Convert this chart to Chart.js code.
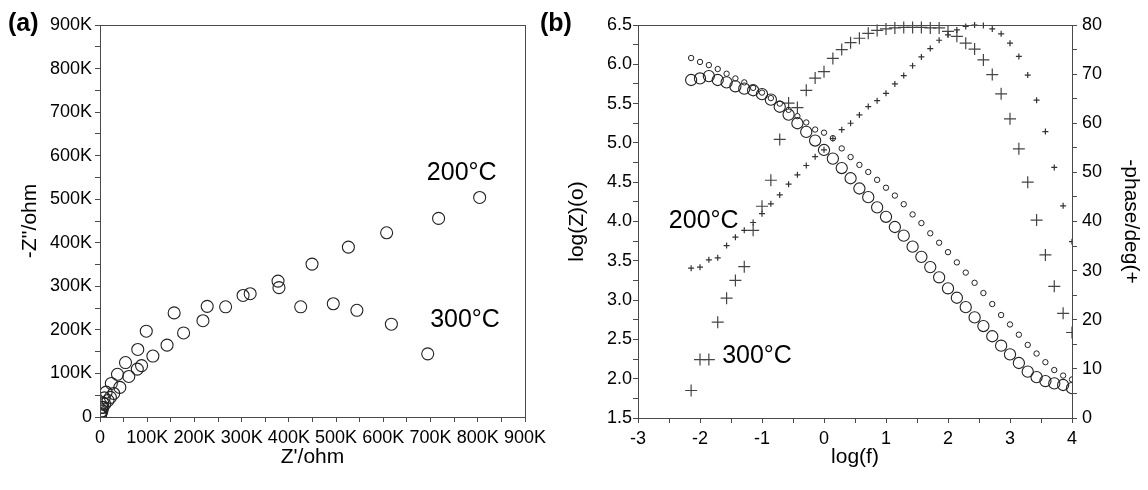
<!DOCTYPE html>
<html><head><meta charset="utf-8">
<script src="https://cdn.jsdelivr.net/npm/chart.js@4.4.0/dist/chart.umd.min.js"></script>
<style>
html,body{margin:0;padding:0;background:#fff;}
#wrap{position:relative;width:1148px;height:490px;overflow:hidden;background:#fff;}
#ca{position:absolute;left:0;top:0;width:560px;height:490px;}
#cb{position:absolute;left:560px;top:0;width:588px;height:490px;}
.plab{position:absolute;font:bold 25px Arial,'Liberation Sans',sans-serif;color:#000;line-height:28px;}
</style></head><body>
<div id="wrap">
<div id="ca"><canvas id="a"></canvas></div>
<div id="cb"><canvas id="b"></canvas></div>
<div class="plab" style="left:8px;top:8px">(a)</div>
<div class="plab" style="left:540px;top:8px">(b)</div>
</div>
<script>
// ---------- Panel (a): Nyquist plot, values in kOhm ----------
const nyq200X = [1, 2, 4, 6, 9, 13, 24, 37, 54, 80, 98, 157, 227, 303, 377, 449, 526, 607, 717, 804];
const nyq200Y = [5, 12, 22, 32, 44, 57, 77, 98, 125, 155, 197, 239, 254, 279, 312, 351, 390, 423, 456, 504];
const nyq300X = [1, 2, 4, 6, 10, 17, 22, 29, 42, 61, 79, 88, 112, 142, 177, 218, 266, 318, 379, 425, 494, 544, 617, 694];
const nyq300Y = [3, 8, 14, 22, 30, 38, 45, 54, 68, 93, 110, 118, 140, 165, 193, 221, 253, 283, 297, 253, 260, 245, 213, 145];
const nyqTicks = ['0', '100K', '200K', '300K', '400K', '500K', '600K', '700K', '800K', '900K'];

// ---------- Panel (b): Bode plot ----------
const logF = [-2.143, -2.000, -1.857, -1.714, -1.571, -1.429, -1.286, -1.143, -1.000, -0.857, -0.714,
  -0.571, -0.429, -0.286, -0.143, 0.000, 0.143, 0.286, 0.429, 0.571, 0.714, 0.857, 1.000, 1.143,
  1.286, 1.429, 1.571, 1.714, 1.857, 2.000, 2.143, 2.286, 2.429, 2.571, 2.714, 2.857, 3.000, 3.143,
  3.286, 3.429, 3.571, 3.714, 3.857, 4.000];
const logZ200 = [6.08, 6.03, 5.99, 5.94, 5.88, 5.82, 5.77, 5.70, 5.64, 5.57, 5.50, 5.42, 5.34, 5.26,
  5.17, 5.13, 5.06, 4.93, 4.82, 4.72, 4.63, 4.53, 4.43, 4.33, 4.22, 4.09, 3.98, 3.85, 3.73, 3.61,
  3.48, 3.35, 3.22, 3.09, 2.95, 2.81, 2.69, 2.56, 2.43, 2.32, 2.21, 2.11, 2.04, 1.99];
const logZ300 = [5.80, 5.82, 5.85, 5.80, 5.77, 5.72, 5.69, 5.67, 5.62, 5.55, 5.46, 5.36, 5.25, 5.14,
  5.03, 4.91, 4.80, 4.68, 4.55, 4.42, 4.31, 4.18, 4.06, 3.93, 3.82, 3.68, 3.55, 3.42, 3.29, 3.15,
  3.03, 2.91, 2.78, 2.67, 2.54, 2.42, 2.31, 2.20, 2.09, 2.02, 1.97, 1.94, 1.92, 1.88];
const phase200 = [30.5, 30.7, 32.2, 32.6, 35.1, 36.8, 38.2, 39.8, 41.6, 43.6, 45.4, 47.6, 49.5, 51.4,
  53.2, 54.6, 56.9, 58.7, 60.0, 61.7, 63.4, 64.6, 66.1, 68.0, 69.7, 71.7, 73.5, 75.2, 76.9, 78.0,
  79.0, 79.7, 80.0, 79.9, 79.2, 78.2, 76.3, 73.6, 69.8, 64.7, 58.3, 51.0, 43.2, 35.9];
const phase300 = [5.6, 11.9, 11.9, 19.5, 24.4, 28.0, 30.8, 38.2, 43.1, 48.4, 56.7, 64.1, 63.2, 66.7,
  69.2, 70.5, 73.2, 75.0, 76.4, 77.3, 78.3, 78.9, 79.2, 79.4, 79.5, 79.5, 79.5, 79.4, 79.4, 78.7,
  77.7, 76.3, 75.1, 72.9, 69.9, 66.0, 60.9, 54.8, 48.0, 40.3, 33.2, 26.8, 21.3, 17.4];
const bodeXTicks = ['-3', '-2', '-1', '0', '1', '2', '3', '4'];

// label annotations (text, data position)
const annotA = [{text: '200°C', x: 766000, y: 561000}, {text: '300°C', x: 773000, y: 223000}];
const annotB = [{text: '200°C', x: -1.94, y: 4.01}, {text: '300°C', x: -1.08, y: 2.29}];

const FONT = "Arial, 'Liberation Sans', sans-serif";
const AXC = '#4a4a4a';
Chart.defaults.font.family = FONT;
Chart.defaults.color = '#000';

const zip = (xs, ys, k) => xs.map((x, i) => ({x: x * k, y: ys[i] * k}));
const zipB = (ys) => logF.map((x, i) => ({x, y: ys[i]}));

const framePlugin = {
  id: 'frame',
  afterDatasetsDraw(chart) {
    const {ctx, chartArea: a} = chart;
    ctx.save();
    ctx.strokeStyle = AXC; ctx.lineWidth = 1;
    ctx.strokeRect(Math.round(a.left) + 0.5, Math.round(a.top) + 0.5, Math.round(a.right - a.left), Math.round(a.bottom - a.top));
    const items = chart.options.plugins.annot.items;
    const yid = chart.options.plugins.annot.yAxis;
    ctx.fillStyle = '#000';
    ctx.font = '25px ' + FONT;
    ctx.textAlign = 'center'; ctx.textBaseline = 'middle';
    items.forEach(it => {
      ctx.fillText(it.text, chart.scales.x.getPixelForValue(it.x), chart.scales[yid].getPixelForValue(it.y));
    });
    ctx.restore();
  }
};

function axisBase(extra) {
  return Object.assign({
    type: 'linear',
    grid: {display: true, drawOnChartArea: false, drawTicks: true, tickLength: 5, color: AXC, tickColor: AXC},
    border: {display: true, color: AXC, width: 1},
  }, extra);
}

// Panel (a)
new Chart(document.getElementById('a'), {
  type: 'scatter',
  data: {
    datasets: [
      {label: '200°C', data: zip(nyq200X, nyq200Y, 1000), pointStyle: 'circle', pointRadius: 6,
        borderColor: '#222', backgroundColor: 'rgba(0,0,0,0)', borderWidth: 1.1, pointHoverRadius: 6},
      {label: '300°C', data: zip(nyq300X, nyq300Y, 1000), pointStyle: 'circle', pointRadius: 6,
        borderColor: '#222', backgroundColor: 'rgba(0,0,0,0)', borderWidth: 1.1, pointHoverRadius: 6},
    ]
  },
  options: {
    responsive: true, maintainAspectRatio: false, animation: false, devicePixelRatio: 1,
    layout: {padding: {top: 25, right: 35, left: 0, bottom: 0}},
    plugins: {legend: {display: false}, tooltip: {enabled: false}, annot: {items: annotA, yAxis: 'y'}},
    scales: {
      x: axisBase({min: 0, max: 900000,
        ticks: {stepSize: 50000, autoSkip: false, maxRotation: 0, padding: 5, font: {size: 18},
          callback: v => (v % 100000 === 0 ? nyqTicks[v / 100000] : '')},
        title: {display: true, text: "Z'/ohm", font: {size: 21}, padding: {top: 0, bottom: 20}},
        afterFit: s => { s.height = 73; }}),
      y: axisBase({min: 0, max: 900000,
        ticks: {stepSize: 50000, autoSkip: false, padding: 3, font: {size: 18},
          callback: v => (v % 100000 === 0 ? nyqTicks[v / 100000] : '')},
        title: {display: true, text: "-Z''/ohm", font: {size: 21}, padding: {top: 18, bottom: 0}},
        afterFit: s => { s.width = 100; }}),
    }
  },
  plugins: [framePlugin]
});

// Panel (b)
const isMul = (v, m) => Math.abs(v / m - Math.round(v / m)) < 1e-6;
new Chart(document.getElementById('b'), {
  type: 'scatter',
  data: {
    datasets: [
      {label: '|Z| 200°C', data: zipB(logZ200), yAxisID: 'y', pointStyle: 'circle', pointRadius: 2.7,
        borderColor: '#222', backgroundColor: 'rgba(0,0,0,0)', borderWidth: 1, pointHoverRadius: 2.7},
      {label: '|Z| 300°C', data: zipB(logZ300), yAxisID: 'y', pointStyle: 'circle', pointRadius: 5.6,
        borderColor: '#222', backgroundColor: 'rgba(0,0,0,0)', borderWidth: 1.1, pointHoverRadius: 5.6},
      {label: 'phase 200°C', data: zipB(phase200), yAxisID: 'y2', pointStyle: 'cross', pointRadius: 3,
        borderColor: '#333', borderWidth: 1.2, pointHoverRadius: 3},
      {label: 'phase 300°C', data: zipB(phase300), yAxisID: 'y2', pointStyle: 'cross', pointRadius: 6,
        borderColor: '#444', borderWidth: 1.2, pointHoverRadius: 6},
    ]
  },
  options: {
    responsive: true, maintainAspectRatio: false, animation: false, devicePixelRatio: 1,
    layout: {padding: {top: 25, right: 0, left: 0, bottom: 0}},
    datasets: {scatter: {clip: {left: 8, top: 8, right: 0, bottom: 8}}},
    plugins: {legend: {display: false}, tooltip: {enabled: false}, annot: {items: annotB, yAxis: 'y'}},
    scales: {
      x: axisBase({min: -3, max: 4,
        ticks: {stepSize: 0.5, autoSkip: false, maxRotation: 0, padding: 5, font: {size: 18},
          callback: v => (isMul(v, 1) ? bodeXTicks[Math.round(v) + 3] : '')},
        title: {display: true, text: 'log(f)', font: {size: 21}, padding: {top: 0, bottom: 20}},
        afterFit: s => { s.height = 72; }}),
      y: axisBase({min: 1.5, max: 6.5, position: 'left',
        ticks: {stepSize: 0.25, autoSkip: false, padding: 1, font: {size: 18},
          callback: v => (isMul(v, 0.5) ? v.toFixed(1) : '')},
        title: {display: true, text: 'log(Z)(o)', font: {size: 21}, padding: {top: 5, bottom: 0}},
        afterFit: s => { s.width = 78; }}),
      y2: axisBase({min: 0, max: 80, position: 'right',
        ticks: {stepSize: 5, autoSkip: false, padding: 5, font: {size: 18},
          callback: v => (isMul(v, 10) ? String(v) : '')},
        title: {display: true, text: '-phase/deg(+', font: {size: 21}, padding: {top: 5, bottom: 0}},
        afterFit: s => { s.width = 76; }}),
    }
  },
  plugins: [framePlugin]
});
</script>
</body></html>
